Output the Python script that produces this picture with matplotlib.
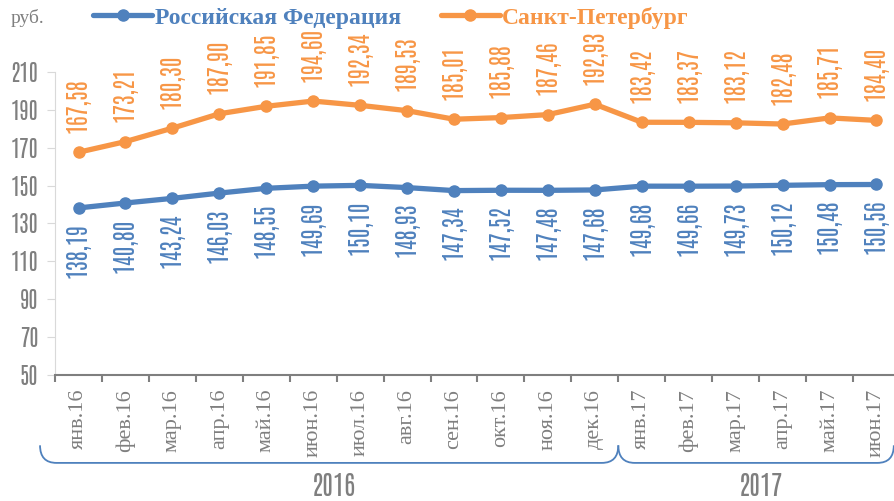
import numpy as np
import matplotlib.pyplot as plt
from matplotlib.path import Path
from matplotlib.patches import PathPatch
import matplotlib.transforms as mtransforms

months = ['янв.16', 'фев.16', 'мар.16', 'апр.16', 'май.16', 'июн.16', 'июл.16', 'авг.16',
          'сен.16', 'окт.16', 'ноя.16', 'дек.16', 'янв.17', 'фев.17', 'мар.17', 'апр.17',
          'май.17', 'июн.17']
rf = [138.19, 140.80, 143.24, 146.03, 148.55, 149.69, 150.10, 148.93, 147.34, 147.52,
      147.48, 147.68, 149.68, 149.66, 149.73, 150.12, 150.48, 150.56]
spb = [167.58, 173.21, 180.30, 187.90, 191.85, 194.60, 192.34, 189.53, 185.01, 185.88,
       187.46, 192.93, 183.42, 183.37, 183.12, 182.48, 185.71, 184.40]
years = ['2016', '2017']
yticks = [50, 70, 90, 110, 130, 150, 170, 190, 210]

narrow = ['Antonio', 'DejaVu Sans']
serif = ['Liberation Serif', 'DejaVu Serif']

blue = '#4F81BD'
orange = '#F79646'
gray = '#7F7F7F'

fig = plt.figure(figsize=(8.95, 5.01), dpi=100)
ax = fig.add_axes([0.0615, 0.2515, 0.944, 0.605])
x = np.arange(len(months))

ax.plot(x, rf, color=blue, lw=3.8, marker='o', ms=8, label='Российская Федерация',
        solid_capstyle='round')
ax.plot(x, spb, color=orange, lw=3.8, marker='o', ms=8, label='Санкт-Петербург',
        solid_capstyle='round')

for xi, v in zip(x, spb):
    ax.annotate(f'{v:.2f}'.replace('.', ','), (xi, v), xytext=(0, 14),
                textcoords='offset points', rotation=90, ha='center', va='bottom',
                color=orange, fontsize=17, family=narrow, weight='light',
                annotation_clip=False)
for xi, v in zip(x, rf):
    ax.annotate(f'{v:.2f}'.replace('.', ','), (xi, v), xytext=(0, -11),
                textcoords='offset points', rotation=90, ha='center', va='top',
                color=blue, fontsize=17, family=narrow, weight='light',
                annotation_clip=False)

ax.set_xlim(-0.5, len(months) - 0.5)
ax.set_ylim(50, 210)
ax.set_yticks(yticks)
ax.set_yticklabels([str(t) for t in yticks], family=narrow, fontsize=16, color=gray,
                   weight='light')
ax.tick_params(axis='y', length=6, color='#D9D9D9', pad=6)
ax.set_xticks(np.arange(len(months) + 1) - 0.5)
ax.set_xticklabels([])
ax.set_xticks(x, minor=True)
ax.set_xticklabels(months, minor=True, rotation=90, family=serif, fontsize=16, color=gray)
ax.tick_params(axis='x', which='major', direction='out', length=5, color=gray, width=1.5)
ax.tick_params(axis='x', which='minor', length=0, pad=10)

for s in ['top', 'right']:
    ax.spines[s].set_visible(False)
ax.spines['left'].set_color('#D9D9D9')
ax.spines['bottom'].set_color(gray)
ax.spines['bottom'].set_linewidth(1.5)

# year braces under the month labels
tr = mtransforms.blended_transform_factory(ax.transData, ax.transAxes)
bounds = [(-0.82, 11.5), (11.5, 17.37)]
yb, yt = -0.29, -0.232
for (a, b), yr in zip(bounds, years):
    verts = [(a, yt), (a, yb), (a + 0.35, yb), (b - 0.35, yb), (b, yb), (b, yt)]
    codes = [Path.MOVETO, Path.CURVE3, Path.CURVE3, Path.LINETO, Path.CURVE3, Path.CURVE3]
    ax.add_patch(PathPatch(Path(verts, codes), transform=tr, fill=False, ec=blue, lw=1.3,
                           clip_on=False))
    ax.text((a + b) / 2 + 0.1, -0.365, yr, transform=tr, ha='center', va='center',
            family=narrow, fontsize=19, color=gray, weight='light')

fig.text(0.012, 0.965, 'руб.', family=serif, fontsize=14, color=gray, va='center')
leg = ax.legend(loc='center', bbox_to_anchor=(0.437, 0.965), bbox_transform=fig.transFigure,
                ncol=2, frameon=False, handlelength=2.5, columnspacing=1.7, handletextpad=0.1,
                prop={'family': serif, 'weight': 'bold', 'size': 17})
for t, c in zip(leg.get_texts(), [blue, orange]):
    t.set_color(c)

fig.savefig('out.png', dpi=100)
